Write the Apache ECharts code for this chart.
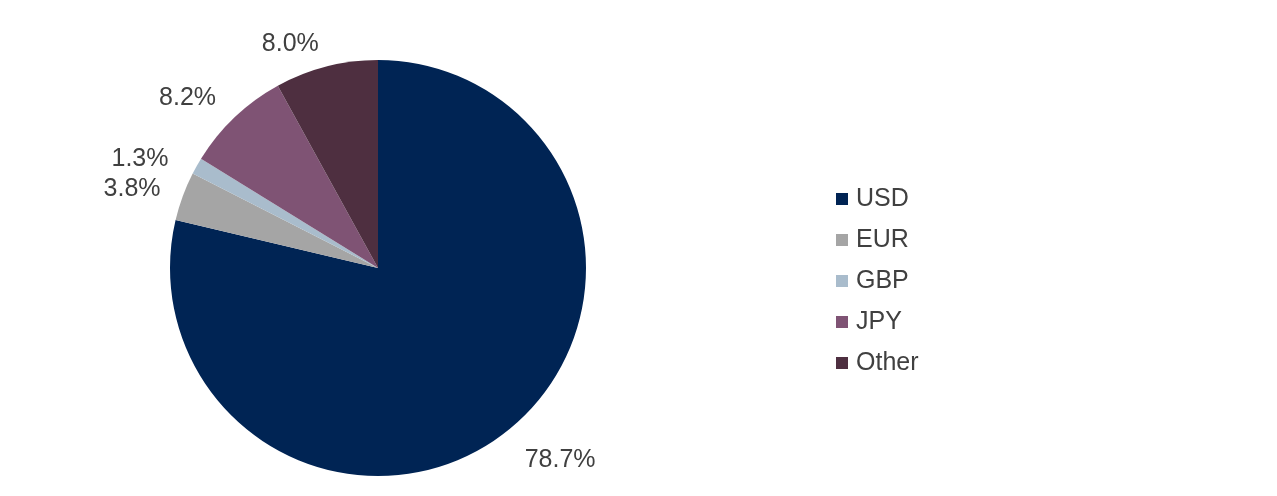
<!DOCTYPE html>
<html><head><meta charset="utf-8">
<script src="https://cdn.jsdelivr.net/npm/echarts@6/dist/echarts.min.js"></script>
<style>html,body{margin:0;padding:0;background:#fff}#c{width:1277px;height:496px}</style>
</head><body><div id="c"></div>
<script>
const categories = ['USD', 'EUR', 'GBP', 'JPY', 'Other'];
const values = [78.7, 3.8, 1.3, 8.2, 8.0];
const colors = ['#002454', '#a5a5a5', '#a9bccc', '#7f5374', '#4e2f40'];

const chart = echarts.init(document.getElementById('c'));
const labelNudge = { USD: [0, 18], EUR: [0, -2], GBP: [-7, 0], JPY: [0, -9], Other: [5, -9] };
chart.setOption({
  animation: false,
  color: colors,
  legend: {
    orient: 'vertical',
    left: 831,
    top: 181,
    itemWidth: 12,
    itemHeight: 12,
    itemGap: 15,
    icon: 'rect',
    textStyle: { fontFamily: 'Liberation Sans, Arial', fontSize: 25, lineHeight: 26, color: '#404040', padding: [0,0,0,3] },
    data: categories
  },
  series: [{
    type: 'pie',
    center: [378, 268],
    radius: 208,
    startAngle: 90,
    clockwise: true,
    avoidLabelOverlap: false,
    label: {
      show: true,
      position: 'outside',
      formatter: p => p.value.toFixed(1) + '%',
      fontFamily: 'Liberation Sans, Arial',
      fontSize: 25,
      color: '#404040'
    },
    labelLine: { show: false, length: 14, length2: 4 },
    itemStyle: { borderWidth: 0 },
    emphasis: { disabled: true },
    data: categories.map((c, i) => ({ name: c, value: values[i], label: { offset: labelNudge[c] } }))
  }]
});
</script></body></html>
